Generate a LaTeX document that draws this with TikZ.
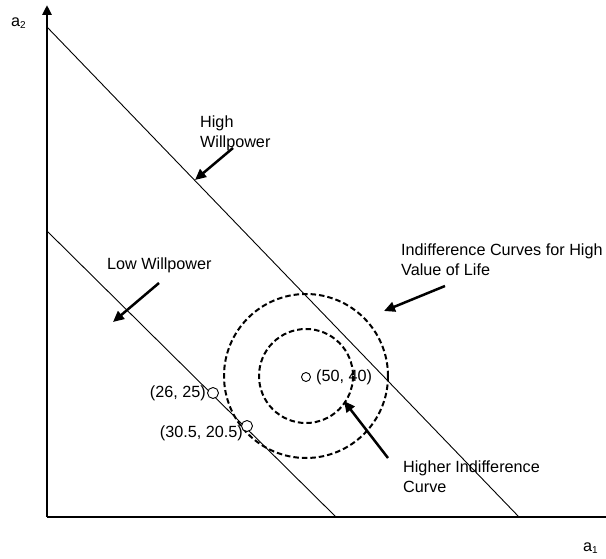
\documentclass[tikz,border=0pt]{standalone}
\usepackage{fontspec}
\setmainfont{Liberation Sans}
\usetikzlibrary{arrows.meta}
\begin{document}
\begin{tikzpicture}[x=1pt,y=-1pt,
  axis/.style={line width=2.8pt},
  budget/.style={line width=0.9pt},
  icurve/.style={line width=2pt,dash pattern=on 5.5pt off 3pt},
  pointer/.style={line width=2.5pt,-{Triangle[length=11pt,width=10pt]}},
  lbl/.style={font=\fontsize{16.2}{19.5}\selectfont,align=left,inner sep=0pt},
  dot/.style={circle,draw,line width=0.9pt,fill=white,minimum size=9pt,inner sep=0pt}]
\useasboundingbox (0,0) rectangle (606,559);
% axes
\coordinate (O) at (47,517);
\coordinate (Ytop) at (47,5);
\coordinate (Xend) at (618,517);
\draw[axis,-{Triangle[length=10pt,width=9pt]}] (O) -- (Ytop);
\draw[axis,-{Triangle[length=10pt,width=9pt]}] (O) -- (Xend);
\node[lbl,anchor=west] (a2) at (11,23) {a\textsubscript{\fontsize{10}{10}\selectfont 2}};
\node[lbl,anchor=west] (a1) at (583,548) {a\textsubscript{\fontsize{10}{10}\selectfont 1}};
% budget lines
\coordinate (H1) at (47,27);
\coordinate (H2) at (519,517);
\coordinate (L1) at (47,231);
\coordinate (L2) at (336,517);
\draw[budget] (H1) -- (H2);
\draw[budget] (L1) -- (L2);
% indifference curves
\coordinate (C) at (306,376);
\draw[icurve] (C) circle[radius=47];
\draw[icurve] (C) circle[radius=82];
% points
\node[dot,minimum size=9pt] (p50) at (306,377) {};
\node[dot,minimum size=11pt] (p26) at (213,393) {};
\node[dot,minimum size=11pt] (p30) at (247,426) {};
\node[lbl,anchor=west] (t50) at (316,377) {(50, 40)};
\node[lbl,anchor=east] (t26) at (206,393) {(26, 25)};
\node[lbl,anchor=east] (t30) at (243,433) {(30.5, 20.5)};
% labels
\node[lbl,anchor=north west] (hw) at (200,116) {High\\Willpower};
\node[lbl,anchor=west] (lw) at (107,265) {Low Willpower};
\node[lbl,anchor=north west] (ic) at (401,244) {Indifference Curves for High\\Value of Life};
\node[lbl,anchor=north west] (hi) at (403,461) {Higher Indifference\\Curve};
% pointers
\coordinate (hwS) at (233,148);
\coordinate (hwE) at (195,180);
\coordinate (lwS) at (159,283);
\coordinate (lwE) at (113,322);
\coordinate (icS) at (445,286);
\coordinate (icE) at (384,311);
\coordinate (hiS) at (388,458);
\coordinate (hiE) at (344,401);
\draw[pointer] (hwS) -- (hwE);
\draw[pointer] (lwS) -- (lwE);
\draw[pointer] (icS) -- (icE);
\draw[pointer] (hiS) -- (hiE);
\end{tikzpicture}
\end{document}
